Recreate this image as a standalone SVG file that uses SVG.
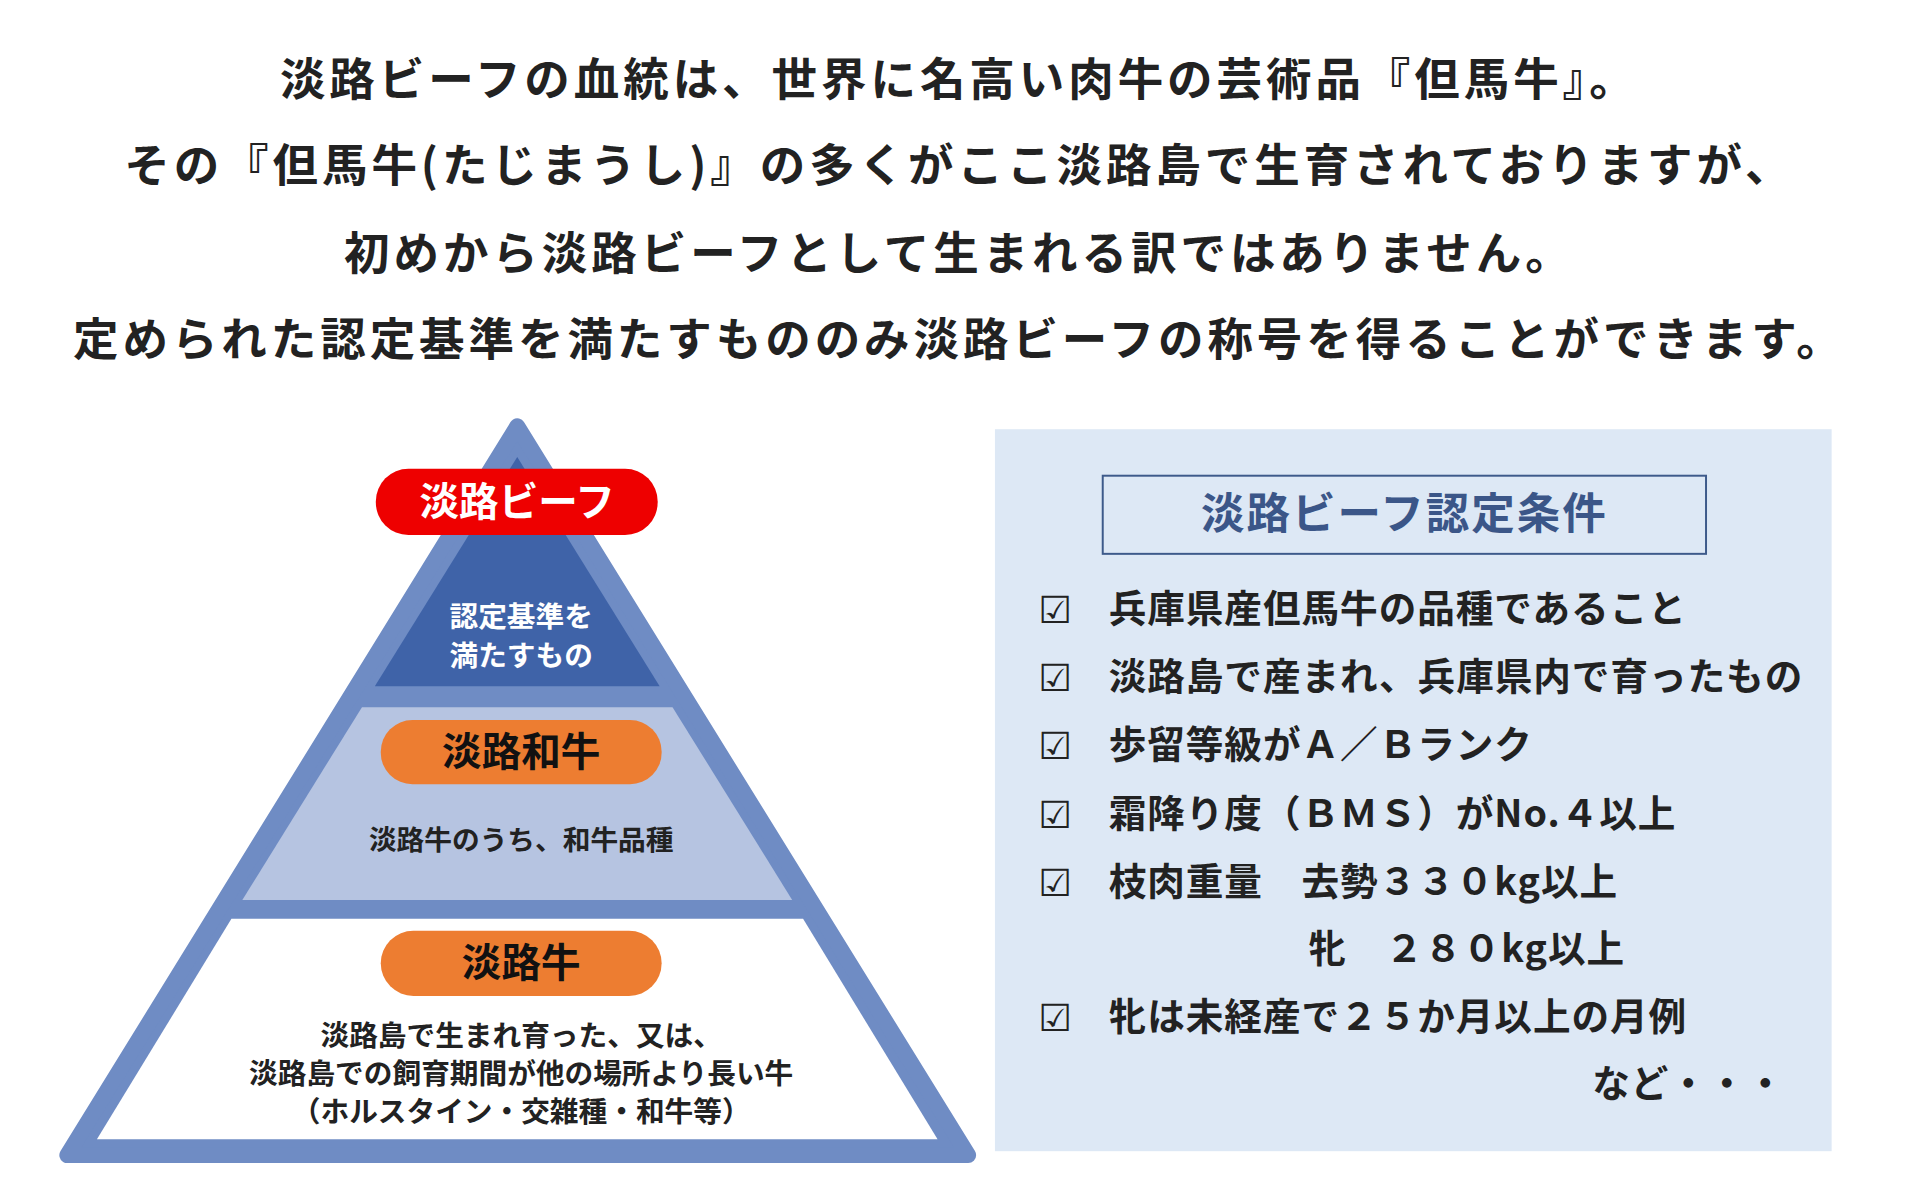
<svg xmlns="http://www.w3.org/2000/svg" width="1920" height="1192" viewBox="0 0 1920 1192">
<style>
text{font-family:"Noto Sans CJK JP","Noto Sans",sans-serif;font-weight:bold}
.h{font-size:46px;fill:#222;text-anchor:middle;letter-spacing:4px}
.c{text-anchor:middle}
.it{font-size:38px;fill:#222;letter-spacing:1px}
.ck{font-size:38px;fill:#222;font-family:"DejaVu Sans",sans-serif;font-weight:bold}
</style>
<rect width="1920" height="1192" fill="#fff"/>
<g transform="scale(0.989)">
<g id="intro">
<text class="h" x="970" y="97">淡路ビーフの血統は、世界に名高い肉牛の芸術品『但馬牛』。</text>
<text class="h" x="970" y="184">その『但馬牛(たじまうし)』の多くがここ淡路島で生育されておりますが、</text>
<text class="h" x="970" y="273">初めから淡路ビーフとして生まれる訳ではありません。</text>
<text class="h" x="970" y="360">定められた認定基準を満たすもののみ淡路ビーフの称号を得ることができます。</text>
</g>
<g id="pyramid">
<polygon points="523,431 68,1168 979,1168" fill="#6f8cc4" stroke="#6f8cc4" stroke-width="16" stroke-linejoin="round"/>
<polygon points="523,462 667,694 379,694" fill="#3f63a8"/>
<polygon points="366,715 680,715 801,910 245,910" fill="#b6c4e1"/>
<polygon points="234,929 812,929 948,1152 98,1152" fill="#fff"/>
</g>
<g id="node-beef">
<rect x="380" y="474" width="285" height="67" rx="33" fill="#ee0000"/>
<text class="c" x="523" y="522" font-size="40" fill="#fff">淡路ビーフ</text>
<text class="c" x="527" y="634" font-size="29" fill="#fff">認定基準を</text>
<text class="c" x="527" y="673" font-size="29" fill="#fff">満たすもの</text>
</g>
<g id="node-wagyu">
<rect x="385" y="728" width="284" height="65" rx="32" fill="#ed7d31"/>
<text class="c" x="527" y="775" font-size="40" fill="#111">淡路和牛</text>
<text class="c" x="527" y="859" font-size="28" fill="#222">淡路牛のうち、和牛品種</text>
</g>
<g id="node-gyu">
<rect x="385" y="941" width="284" height="66" rx="33" fill="#ed7d31"/>
<text class="c" x="527" y="988" font-size="40" fill="#111">淡路牛</text>
<text class="c" x="527" y="1058" font-size="29" fill="#222">淡路島で生まれ育った、又は、</text>
<text class="c" x="527" y="1096" font-size="29" fill="#222">淡路島での飼育期間が他の場所より長い牛</text>
<text class="c" x="527" y="1134" font-size="29" fill="#222">（ホルスタイン・交雑種・和牛等）</text>
</g>
<g id="conditions">
<rect x="1006" y="434" width="846" height="730" fill="#dde8f5"/>
<rect x="1115" y="481" width="610" height="79" fill="none" stroke="#3d5a8a" stroke-width="2"/>
<text class="c" x="1420" y="535" font-size="44" fill="#3b5688" style="letter-spacing:2px">淡路ビーフ認定条件</text>
<text class="ck" x="1050" y="630">☑</text><text class="it" x="1121" y="629">兵庫県産但馬牛の品種であること</text>
<text class="ck" x="1050" y="699">☑</text><text class="it" x="1121" y="698">淡路島で産まれ、兵庫県内で育ったもの</text>
<text class="ck" x="1050" y="767">☑</text><text class="it" x="1121" y="766">歩留等級がＡ／Ｂランク</text>
<text class="ck" x="1050" y="837">☑</text><text class="it" x="1121" y="836">霜降り度（ＢＭＳ）がNo.４以上</text>
<text class="ck" x="1050" y="906">☑</text><text class="it" x="1121" y="905">枝肉重量　去勢３３０kg以上</text>
<text class="it" x="1323" y="973">牝　２８０kg以上</text>
<text class="ck" x="1050" y="1042">☑</text><text class="it" x="1121" y="1041">牝は未経産で２５か月以上の月例</text>
<text class="it" x="1805" y="1109" text-anchor="end">など・・・</text>
</g>
</g>
</svg>
